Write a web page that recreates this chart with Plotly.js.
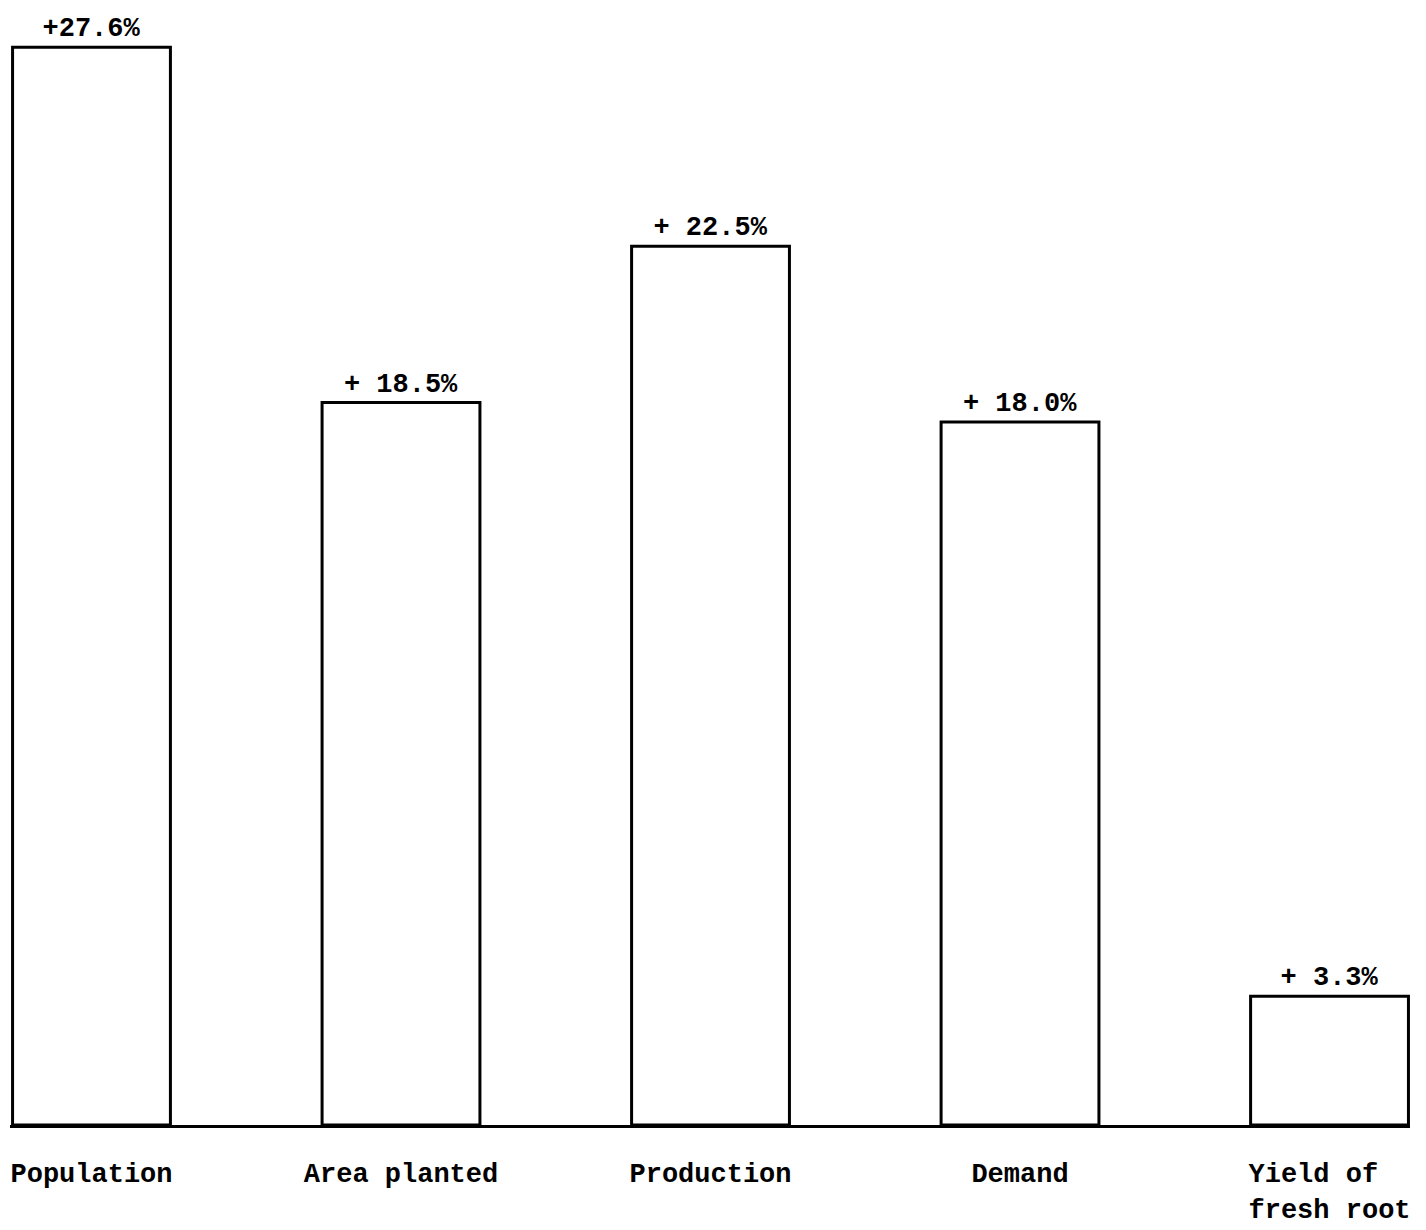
<!DOCTYPE html>
<html>
<head>
<meta charset="utf-8">
<script src="https://cdn.plot.ly/plotly-3.0.1.min.js"></script>
<style>html,body{margin:0;padding:0;background:#fff;}#chart{width:1426px;height:1230px;}</style>
</head>
<body>
<div id="chart"></div>
<script>
const categories = ["Population", "Area planted", "Production", "Demand", "Yield of\u00a0\u00a0<br>fresh root"];
const values = [27.6, 18.5, 22.5, 18.0, 3.3];
const valueLabels = ["+27.6%", "+ 18.5%", "+ 22.5%", "+ 18.0%", "+ 3.3%"];

const font = "Liberation Mono, Courier New, monospace";

Plotly.newPlot("chart", [{
  type: "bar",
  x: categories,
  y: values,
  text: valueLabels,
  textposition: "outside",
  cliponaxis: false,
  textfont: {family: font, size: 27, color: "#000", weight: "bold"},
  width: 0.51,
  marker: {color: "#fff", line: {color: "#000", width: 3}},
  hoverinfo: "skip"
}], {
  width: 1426,
  height: 1230,
  margin: {l: 10, r: 16, t: 12, b: 105},
  paper_bgcolor: "#fff",
  plot_bgcolor: "#fff",
  showlegend: false,
  xaxis: {
    type: "category",
    range: [-0.2633, 4.26],
    showline: true,
    linecolor: "#000",
    linewidth: 3,
    showgrid: false,
    zeroline: false,
    ticks: "outside",
    ticklen: 22,
    tickcolor: "rgba(0,0,0,0)",
    tickfont: {family: font, size: 27, color: "#000", weight: "bold"}
  },
  yaxis: {
    range: [0, 28.5],
    visible: false,
    showgrid: false,
    zeroline: false
  }
}, {displayModeBar: false, staticPlot: true});
</script>
</body>
</html>
